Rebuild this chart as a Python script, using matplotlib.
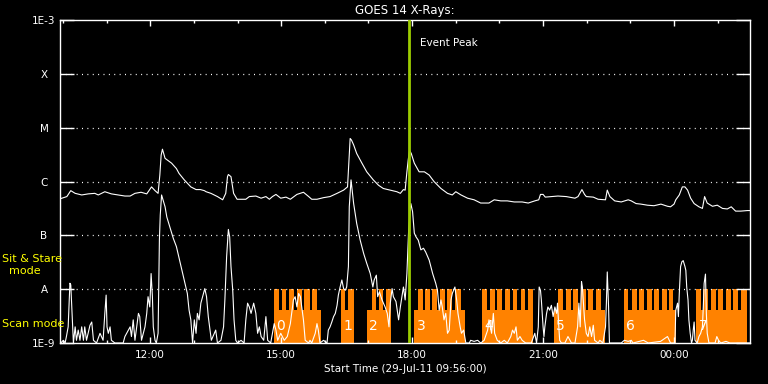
import numpy as np
import matplotlib
matplotlib.use("Agg")
import matplotlib.pyplot as plt

# ---------------- data (time in decimal hours since 29-Jul-11 00:00) ----------------
long_time = [9.94, 10.09, 10.18, 10.28, 10.43, 10.58, 10.73, 10.81, 10.96, 11.11, 11.27, 11.42,
             11.54, 11.65, 11.79, 11.92, 12.03, 12.11, 12.18, 12.22, 12.25, 12.28, 12.34, 12.49,
             12.60, 12.66, 12.78, 12.93, 13.05, 13.15, 13.24, 13.28, 13.39, 13.54, 13.66, 13.73,
             13.77, 13.79, 13.85, 13.91, 13.99, 14.08, 14.19, 14.27, 14.42, 14.54, 14.65, 14.73,
             14.80, 14.88, 14.99, 15.11, 15.21, 15.36, 15.51, 15.63, 15.70, 15.82, 15.97, 16.12,
             16.28, 16.43, 16.52, 16.54, 16.58, 16.61, 16.66, 16.73, 16.85, 16.96, 17.11, 17.23,
             17.34, 17.50, 17.65, 17.73, 17.80, 17.84, 17.88, 17.91, 17.94, 17.98, 18.05, 18.16,
             18.28, 18.39, 18.50, 18.66, 18.81, 18.92, 19.00, 19.12, 19.27, 19.42, 19.57, 19.76,
             19.88, 20.03, 20.18, 20.34, 20.52, 20.66, 20.81, 20.90, 20.94, 21.00, 21.05, 21.19,
             21.34, 21.53, 21.73, 21.80, 21.89, 21.95, 21.99, 22.15, 22.26, 22.43, 22.47, 22.53,
             22.64, 22.79, 22.95, 23.02, 23.13, 23.24, 23.39, 23.54, 23.70, 23.85, 23.92, 24.00,
             24.04, 24.12, 24.19, 24.25, 24.31, 24.38, 24.46, 24.57, 24.65, 24.70, 24.76, 24.88,
             24.99, 25.11, 25.22, 25.31, 25.41, 25.53, 25.68, 25.74]
long_log = [-6.32, -6.28, -6.17, -6.22, -6.25, -6.23, -6.22, -6.25, -6.19, -6.23, -6.25, -6.27,
            -6.27, -6.22, -6.20, -6.23, -6.10, -6.17, -6.22, -5.88, -5.51, -5.40, -5.57, -5.66,
            -5.76, -5.85, -5.97, -6.10, -6.15, -6.15, -6.17, -6.19, -6.22, -6.28, -6.34, -6.22,
            -5.91, -5.87, -5.91, -6.22, -6.33, -6.33, -6.33, -6.28, -6.27, -6.31, -6.28, -6.33,
            -6.28, -6.24, -6.31, -6.29, -6.33, -6.24, -6.20, -6.28, -6.33, -6.33, -6.30, -6.28,
            -6.22, -6.16, -6.10, -5.79, -5.20, -5.23, -5.32, -5.48, -5.66, -5.82, -5.97, -6.07,
            -6.13, -6.16, -6.19, -6.22, -6.15, -6.16, -5.82, -5.60, -5.42, -5.48, -5.66, -5.82,
            -5.82, -5.88, -6.00, -6.13, -6.22, -6.25, -6.19, -6.25, -6.31, -6.34, -6.40, -6.40,
            -6.34, -6.36, -6.36, -6.38, -6.38, -6.40, -6.36, -6.34, -6.24, -6.24, -6.29, -6.28,
            -6.27, -6.28, -6.31, -6.28, -6.15, -6.24, -6.28, -6.29, -6.33, -6.34, -6.16, -6.28,
            -6.36, -6.38, -6.34, -6.36, -6.41, -6.42, -6.44, -6.45, -6.42, -6.46, -6.47, -6.42,
            -6.34, -6.25, -6.10, -6.10, -6.16, -6.31, -6.41, -6.47, -6.50, -6.28, -6.40, -6.46,
            -6.44, -6.50, -6.51, -6.47, -6.55, -6.55, -6.54, -6.54]

short_time = [9.95, 10.01, 10.05, 10.08, 10.12, 10.16, 10.18, 10.21, 10.24, 10.28, 10.31, 10.35,
              10.39, 10.43, 10.47, 10.50, 10.54, 10.62, 10.66, 10.70, 10.77, 10.85, 10.92, 10.96,
              10.99, 11.01, 11.04, 11.08, 11.11, 11.19, 11.38, 11.42, 11.50, 11.54, 11.57, 11.61,
              11.65, 11.73, 11.76, 11.80, 11.88, 11.92, 11.95, 11.99, 12.02, 12.05, 12.07, 12.11,
              12.14, 12.18, 12.21, 12.23, 12.26, 12.34, 12.38, 12.53, 12.60, 12.69, 12.78, 12.85,
              12.89, 12.93, 12.97, 13.01, 13.05, 13.08, 13.12, 13.16, 13.20, 13.25, 13.29, 13.33,
              13.37, 13.40, 13.47, 13.50, 13.54, 13.62, 13.68, 13.71, 13.75, 13.79, 13.82, 13.85,
              13.89, 13.92, 13.96, 14.00, 14.08, 14.15, 14.19, 14.23, 14.27, 14.31, 14.37, 14.42,
              14.46, 14.50, 14.54, 14.60, 14.65, 14.69, 14.76, 14.84, 14.88, 14.92, 14.99, 15.07,
              15.14, 15.21, 15.28, 15.32, 15.36, 15.40, 15.44, 15.47, 15.51, 15.55, 15.63, 15.66,
              15.70, 15.78, 15.82, 15.85, 15.89, 15.97, 16.05, 16.08, 16.12, 16.16, 16.20, 16.24,
              16.28, 16.31, 16.35, 16.39, 16.43, 16.47, 16.50, 16.54, 16.56, 16.60, 16.66, 16.73,
              16.81, 16.89, 16.96, 17.04, 17.10, 17.13, 17.18, 17.21, 17.25, 17.31, 17.38, 17.43,
              17.47, 17.50, 17.54, 17.57, 17.63, 17.69, 17.73, 17.80, 17.84, 17.88, 17.92, 17.97,
              18.01, 18.05, 18.09, 18.14, 18.20, 18.26, 18.31, 18.39, 18.47, 18.54, 18.58, 18.62,
              18.66, 18.69, 18.73, 18.77, 18.81, 18.85, 18.89, 18.92, 18.98, 19.02, 19.05, 19.10,
              19.13, 19.18, 19.23, 19.31, 19.34, 19.42, 19.50, 19.57, 19.65, 19.73, 19.76, 19.82,
              19.86, 19.89, 19.95, 20.03, 20.11, 20.18, 20.26, 20.30, 20.34, 20.38, 20.41, 20.47,
              20.52, 20.60, 20.73, 20.81, 20.85, 20.89, 20.91, 20.94, 20.96, 21.00, 21.02, 21.04,
              21.08, 21.11, 21.15, 21.19, 21.23, 21.27, 21.31, 21.33, 21.36, 21.38, 21.42, 21.50,
              21.57, 21.65, 21.73, 21.79, 21.82, 21.85, 21.88, 21.90, 21.93, 21.95, 21.99, 22.03,
              22.07, 22.11, 22.15, 22.18, 22.26, 22.30, 22.37, 22.43, 22.45, 22.47, 22.50, 22.52,
              22.64, 22.79, 22.86, 22.95, 23.02, 23.06, 23.30, 23.41, 23.69, 23.85, 23.92, 24.02,
              24.04, 24.08, 24.10, 24.12, 24.15, 24.18, 24.21, 24.25, 24.27, 24.29, 24.32, 24.34,
              24.37, 24.40, 24.42, 24.44, 24.46, 24.48, 24.53, 24.57, 24.61, 24.65, 24.67, 24.69,
              24.72, 24.74, 24.76, 24.80, 24.94, 24.98, 25.02, 25.07, 25.19, 25.28, 25.74]
short_log = [-9.00, -8.95, -9.00, -8.88, -8.70, -7.89, -7.92, -8.45, -9.00, -8.70, -8.95, -8.76,
             -8.95, -8.70, -8.95, -8.70, -8.95, -8.67, -8.61, -8.95, -9.00, -8.82, -8.95, -8.45,
             -8.11, -8.70, -8.82, -8.70, -8.95, -9.00, -9.00, -8.88, -8.76, -8.70, -8.88, -8.57,
             -8.95, -8.45, -8.51, -8.95, -8.70, -8.45, -8.14, -8.33, -7.71, -8.14, -8.70, -8.95,
             -9.00, -8.82, -7.09, -6.62, -6.25, -6.47, -6.66, -7.06, -7.21, -7.52, -7.83, -8.08,
             -8.39, -8.57, -9.00, -8.57, -8.82, -8.45, -8.57, -8.26, -8.14, -7.99, -8.14, -8.51,
             -8.76, -8.95, -8.82, -8.76, -9.00, -8.95, -8.70, -8.20, -7.40, -6.89, -7.03, -7.58,
             -8.02, -8.57, -8.95, -9.00, -8.95, -9.00, -8.57, -8.26, -8.33, -8.45, -8.26, -8.45,
             -8.82, -8.70, -8.88, -8.95, -8.51, -8.95, -9.00, -8.64, -8.76, -8.95, -8.82, -8.95,
             -8.88, -8.64, -8.20, -8.14, -8.33, -8.08, -8.14, -8.33, -8.57, -8.95, -9.00, -8.95,
             -9.00, -8.82, -8.64, -8.76, -9.00, -8.95, -9.00, -8.76, -8.70, -8.61, -8.51, -8.45,
             -8.30, -8.11, -7.96, -7.83, -7.99, -8.02, -7.96, -7.58, -6.47, -5.97, -6.41, -6.78,
             -7.09, -7.34, -7.52, -7.71, -7.96, -7.83, -7.74, -8.14, -8.05, -8.20, -8.33, -8.45,
             -8.70, -8.26, -7.99, -8.14, -8.23, -8.57, -8.33, -7.96, -8.20, -7.71, -6.90, -6.41,
             -6.56, -6.96, -7.03, -7.09, -7.27, -7.24, -7.31, -7.46, -7.71, -7.89, -8.02, -8.39,
             -8.20, -8.33, -8.57, -8.45, -8.82, -8.76, -8.20, -8.08, -7.96, -8.20, -8.45, -8.70,
             -8.82, -8.76, -9.00, -9.00, -8.95, -8.97, -8.95, -9.00, -8.95, -8.76, -8.57, -8.82,
             -8.45, -8.82, -8.95, -9.00, -8.95, -9.00, -8.88, -8.76, -8.82, -8.70, -8.95, -8.88,
             -8.95, -9.00, -9.00, -8.82, -9.00, -8.70, -7.96, -8.02, -8.20, -8.70, -8.88, -8.70,
             -8.45, -8.33, -8.39, -8.30, -8.51, -8.33, -8.45, -8.26, -8.70, -8.95, -9.00, -9.00,
             -8.88, -9.00, -9.00, -8.70, -8.26, -8.70, -7.86, -7.96, -8.33, -8.57, -8.82, -8.88,
             -8.70, -8.88, -8.67, -8.95, -9.00, -8.95, -9.00, -8.70, -8.26, -7.68, -8.33, -9.00,
             -9.00, -9.00, -8.95, -8.97, -8.95, -9.00, -8.95, -9.00, -8.97, -8.88, -9.00, -9.00,
             -8.39, -8.26, -8.51, -8.08, -7.58, -7.49, -7.47, -7.58, -7.65, -7.96, -8.20, -8.57,
             -8.82, -9.00, -8.95, -8.76, -8.61, -8.95, -9.00, -8.88, -8.82, -8.70, -8.33, -7.89,
             -7.72, -8.45, -8.82, -9.00, -9.00, -8.88, -8.95, -9.00, -8.97, -9.00, -9.00]

# operating-mode blocks (orange) and their "sit & stare" teeth
block_start = [14.84, 16.37, 16.97, 18.05, 19.60, 21.25, 22.85, 24.51]
block_end = [15.91, 16.67, 17.52, 19.21, 20.77, 22.42, 24.04, 25.66]
block_label = ["0", "1", "2", "3", "4", "5", "6", "7"]
tooth_start = [14.84, 15.02, 15.19, 15.36, 15.53, 15.70, 16.37, 16.53, 17.07, 17.24, 17.40,
               18.14, 18.30, 18.46, 18.64, 18.81, 18.98, 19.60, 19.78, 19.95, 20.13, 20.30,
               20.49, 20.66, 21.35, 21.52, 21.69, 21.86, 22.04, 22.21, 22.85, 23.03, 23.20,
               23.37, 23.55, 23.73, 23.89, 24.51, 24.67, 24.85, 25.01, 25.19, 25.36, 25.53]
tooth_end = [14.94, 15.11, 15.30, 15.47, 15.65, 15.82, 16.47, 16.67, 17.18, 17.34, 17.52,
             18.24, 18.40, 18.58, 18.75, 18.92, 19.11, 19.71, 19.89, 20.06, 20.24, 20.41,
             20.59, 20.77, 21.46, 21.63, 21.81, 21.98, 22.15, 22.32, 22.95, 23.14, 23.31,
             23.49, 23.66, 23.83, 23.98, 24.61, 24.78, 24.96, 25.13, 25.30, 25.47, 25.66]
scan_level = 4.1e-9
stare_level = 1e-8
floor_level = 1e-9

event_peak = 17.92
x_range = (9.933, 25.74)
x_ticks = [12, 15, 18, 21, 24]
x_ticklabels = ["12:00", "15:00", "18:00", "21:00", "00:00"]
x_minor = [10, 11, 13, 14, 16, 17, 19, 20, 22, 23, 25]
y_ticks = [1e-9, 1e-8, 1e-7, 1e-6, 1e-5, 1e-4, 1e-3]
y_ticklabels = ["1E-9", "A", "B", "C", "M", "X", "1E-3"]
class_levels = [1e-8, 1e-7, 1e-6, 1e-5, 1e-4]

# ---------------- figure ----------------
W, H = 768, 384
fig = plt.figure(figsize=(W / 100, H / 100), dpi=100, facecolor="black")
ax = fig.add_axes([60 / W, (H - 343) / H, 690 / W, 323 / H], facecolor="black")
ax.set_yscale("log")
ax.set_xlim(*x_range)
ax.set_ylim(1e-9, 1e-3)

orange = "#ff8200"
bs = np.array(block_start)
be = np.array(block_end)
ax.bar(bs, scan_level - floor_level, width=be - bs, bottom=floor_level, align="edge",
       color=orange, edgecolor="none", linewidth=0, zorder=1)
ts = np.array(tooth_start)
te = np.array(tooth_end)
ax.bar(ts, stare_level - floor_level, width=te - ts, bottom=floor_level, align="edge",
       color=orange, edgecolor="none", linewidth=0, zorder=1)

for lev in class_levels:
    ax.axhline(lev, color="white", lw=0.9, ls=(0, (0.8, 3.5)), zorder=2)

ax.plot(long_time, 10 ** np.array(long_log), color="white", lw=0.8, zorder=3)
ax.plot(short_time, 10 ** np.array(short_log), color="white", lw=0.8, zorder=3)

for s, lab in zip(block_start, block_label):
    ax.text(s + 0.05, 2.05e-9, lab, color="white", fontsize=10, ha="left", va="center",
            zorder=4)

ax.axvline(event_peak, color="#9ccc00", lw=2.0, zorder=5)
ax.text(event_peak + 0.25, 10 ** (-3 - 23 / 53.83), "Event Peak", color="white",
        fontsize=7.5, ha="left", va="center", zorder=6)

for sp in ax.spines.values():
    sp.set_color("white")
    sp.set_linewidth(1.0)

ax.set_yticks(y_ticks)
ax.set_yticklabels(y_ticklabels)
ax.yaxis.set_minor_locator(matplotlib.ticker.NullLocator())
ax.tick_params(axis="y", which="major", direction="in", length=10, width=1.0,
               colors="white", left=True, right=True, labelsize=7.5, pad=11.5)
for t in ax.get_yticklabels():
    t.set_horizontalalignment("center")

ax.set_xticks(x_ticks)
ax.set_xticklabels(x_ticklabels)
ax.set_xticks(x_minor, minor=True)
ax.tick_params(axis="x", which="major", direction="in", length=4.3, width=1.0,
               colors="white", top=True, bottom=True, labelsize=7.5, pad=5)
ax.tick_params(axis="x", which="minor", direction="in", length=2.4, width=1.0,
               colors="white", top=True, bottom=True)

ax.set_xlabel("Start Time (29-Jul-11 09:56:00)", color="white", fontsize=7.5, labelpad=3)
ax.set_title("GOES 14 X-Rays:", color="white", fontsize=8.5, pad=4)

fig.text(2 / W, 1 - 259 / H, "Sit & Stare", color="yellow", fontsize=8, ha="left", va="center")
fig.text(24.5 / W, 1 - 271 / H, "mode", color="yellow", fontsize=8, ha="center", va="center")
fig.text(2 / W, 1 - 324 / H, "Scan mode", color="yellow", fontsize=8, ha="left", va="center")

fig.savefig("out.png", dpi=100, facecolor="black")
